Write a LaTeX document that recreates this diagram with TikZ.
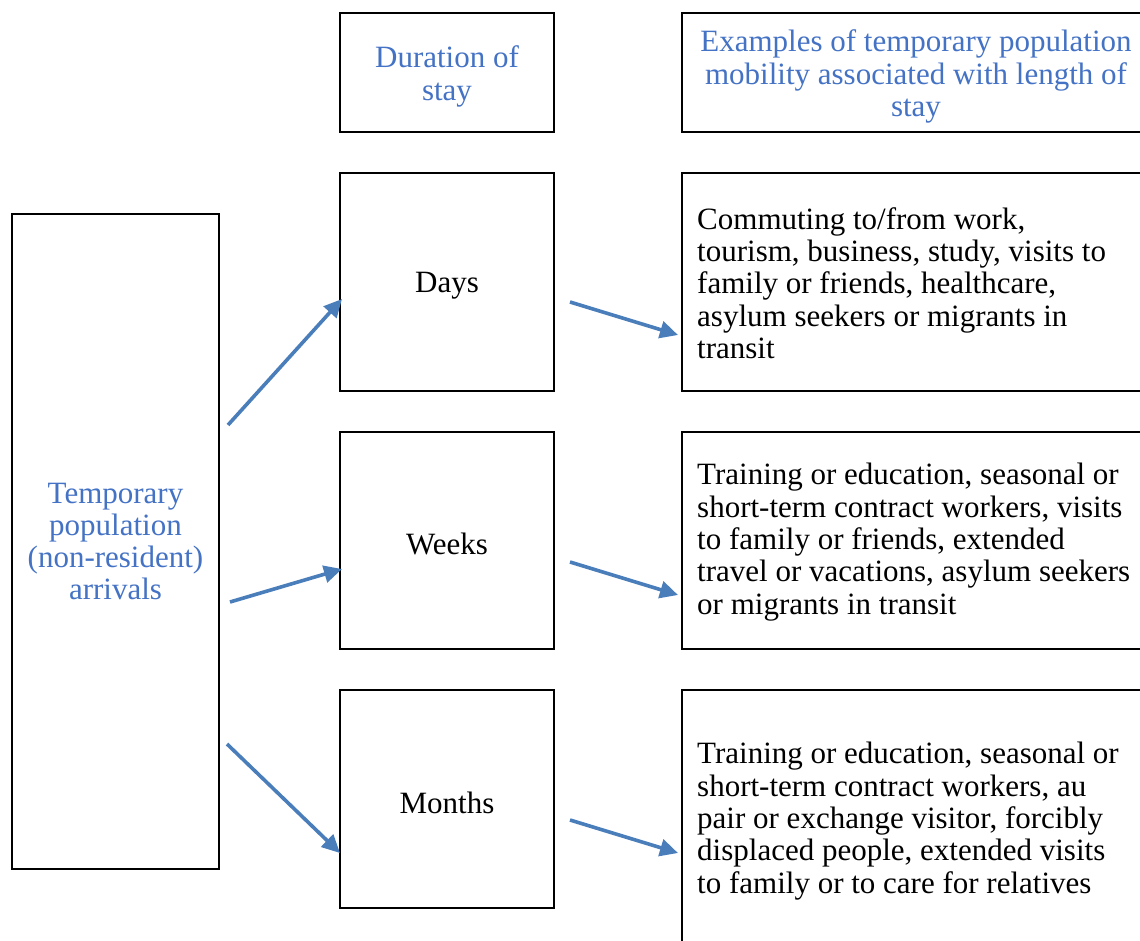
\documentclass[tikz,border=0pt]{standalone}
\usepackage{fontspec}
\setmainfont{Liberation Serif}
\usetikzlibrary{arrows.meta}
\definecolor{headblue}{HTML}{4472C4}
\definecolor{arrowblue}{HTML}{4A7EBB}
\begin{document}
\begin{tikzpicture}[x=1pt,y=-1pt,
  box/.style={draw=black,line width=1.8pt,rectangle,inner sep=0pt},
  bodytext/.style={font=\fontsize{31}{32.3}\selectfont,align=left,inner sep=0pt},
  headtext/.style={font=\fontsize{31}{32.3}\selectfont,text=headblue,align=center},
  flow/.style={draw=arrowblue,line width=3.6pt,-{Triangle[length=18pt,width=17pt]}}]
\useasboundingbox (0,0) rectangle (1140,941);
\clip (0,0) rectangle (1140,941);
\fill[white] (0,0) rectangle (1140,941);

% header row
\node[box,minimum width=214pt,minimum height=119pt] (hdur) at (447,72.5) {};
\node[headtext] (hdurtext) at (447,76.5) {Duration of\\stay};
\node[box,minimum width=468pt,minimum height=119pt] (hex) at (916,72.5) {};
\node[headtext] (hextext) at (916,76.5)
  {Examples of temporary population\\mobility associated with length of\\stay};

% source box
\node[box,minimum width=207pt,minimum height=655pt,headtext] (src) at (115.5,541.5)
  {Temporary\\population\\(non-resident)\\arrivals};

% duration boxes
\node[box,minimum width=214pt,minimum height=218pt] (days) at (447,282) {};
\node[box,minimum width=214pt,minimum height=217pt] (weeks) at (447,540.5) {};
\node[box,minimum width=214pt,minimum height=218pt] (months) at (447,799) {};
\node[headtext,text=black] (daystext) at (447,286) {Days};
\node[headtext,text=black] (weekstext) at (447,544) {Weeks};
\node[headtext,text=black] (monthstext) at (447,803) {Months};

% example boxes
\node[box,minimum width=468pt,minimum height=218pt] (exdays) at (916,282) {};
\node[box,minimum width=468pt,minimum height=217pt] (exweeks) at (916,540.5) {};
\node[box,minimum width=468pt,minimum height=262pt] (exmonths) at (916,821) {};

\node[bodytext,anchor=west] (tdays) at (697,283)
  {Commuting to/from work,\\tourism, business, study, visits to\\family or friends, healthcare,\\asylum seekers or migrants in\\transit};
\node[bodytext,anchor=west] (tweeks) at (697,542)
  {Training or education, seasonal or\\short-term contract workers, visits\\to family or friends, extended\\travel or vacations, asylum seekers\\or migrants in transit};
\node[bodytext,anchor=west] (tmonths) at (697,821)
  {Training or education, seasonal or\\short-term contract workers, au\\pair or exchange visitor, forcibly\\displaced people, extended visits\\to family or to care for relatives};

% arrow end points
\coordinate (s1) at (228,425);  \coordinate (e1) at (342,299);
\coordinate (s2) at (230,602);  \coordinate (e2) at (342,569);
\coordinate (s3) at (227,744);  \coordinate (e3) at (340,853);
\coordinate (s4) at (570,302);  \coordinate (e4) at (678,335);
\coordinate (s5) at (570,562);  \coordinate (e5) at (678,595);
\coordinate (s6) at (570,820);  \coordinate (e6) at (678,853);

\draw[flow] (s1) -- (e1);
\draw[flow] (s2) -- (e2);
\draw[flow] (s3) -- (e3);
\draw[flow] (s4) -- (e4);
\draw[flow] (s5) -- (e5);
\draw[flow] (s6) -- (e6);
\end{tikzpicture}
\end{document}
